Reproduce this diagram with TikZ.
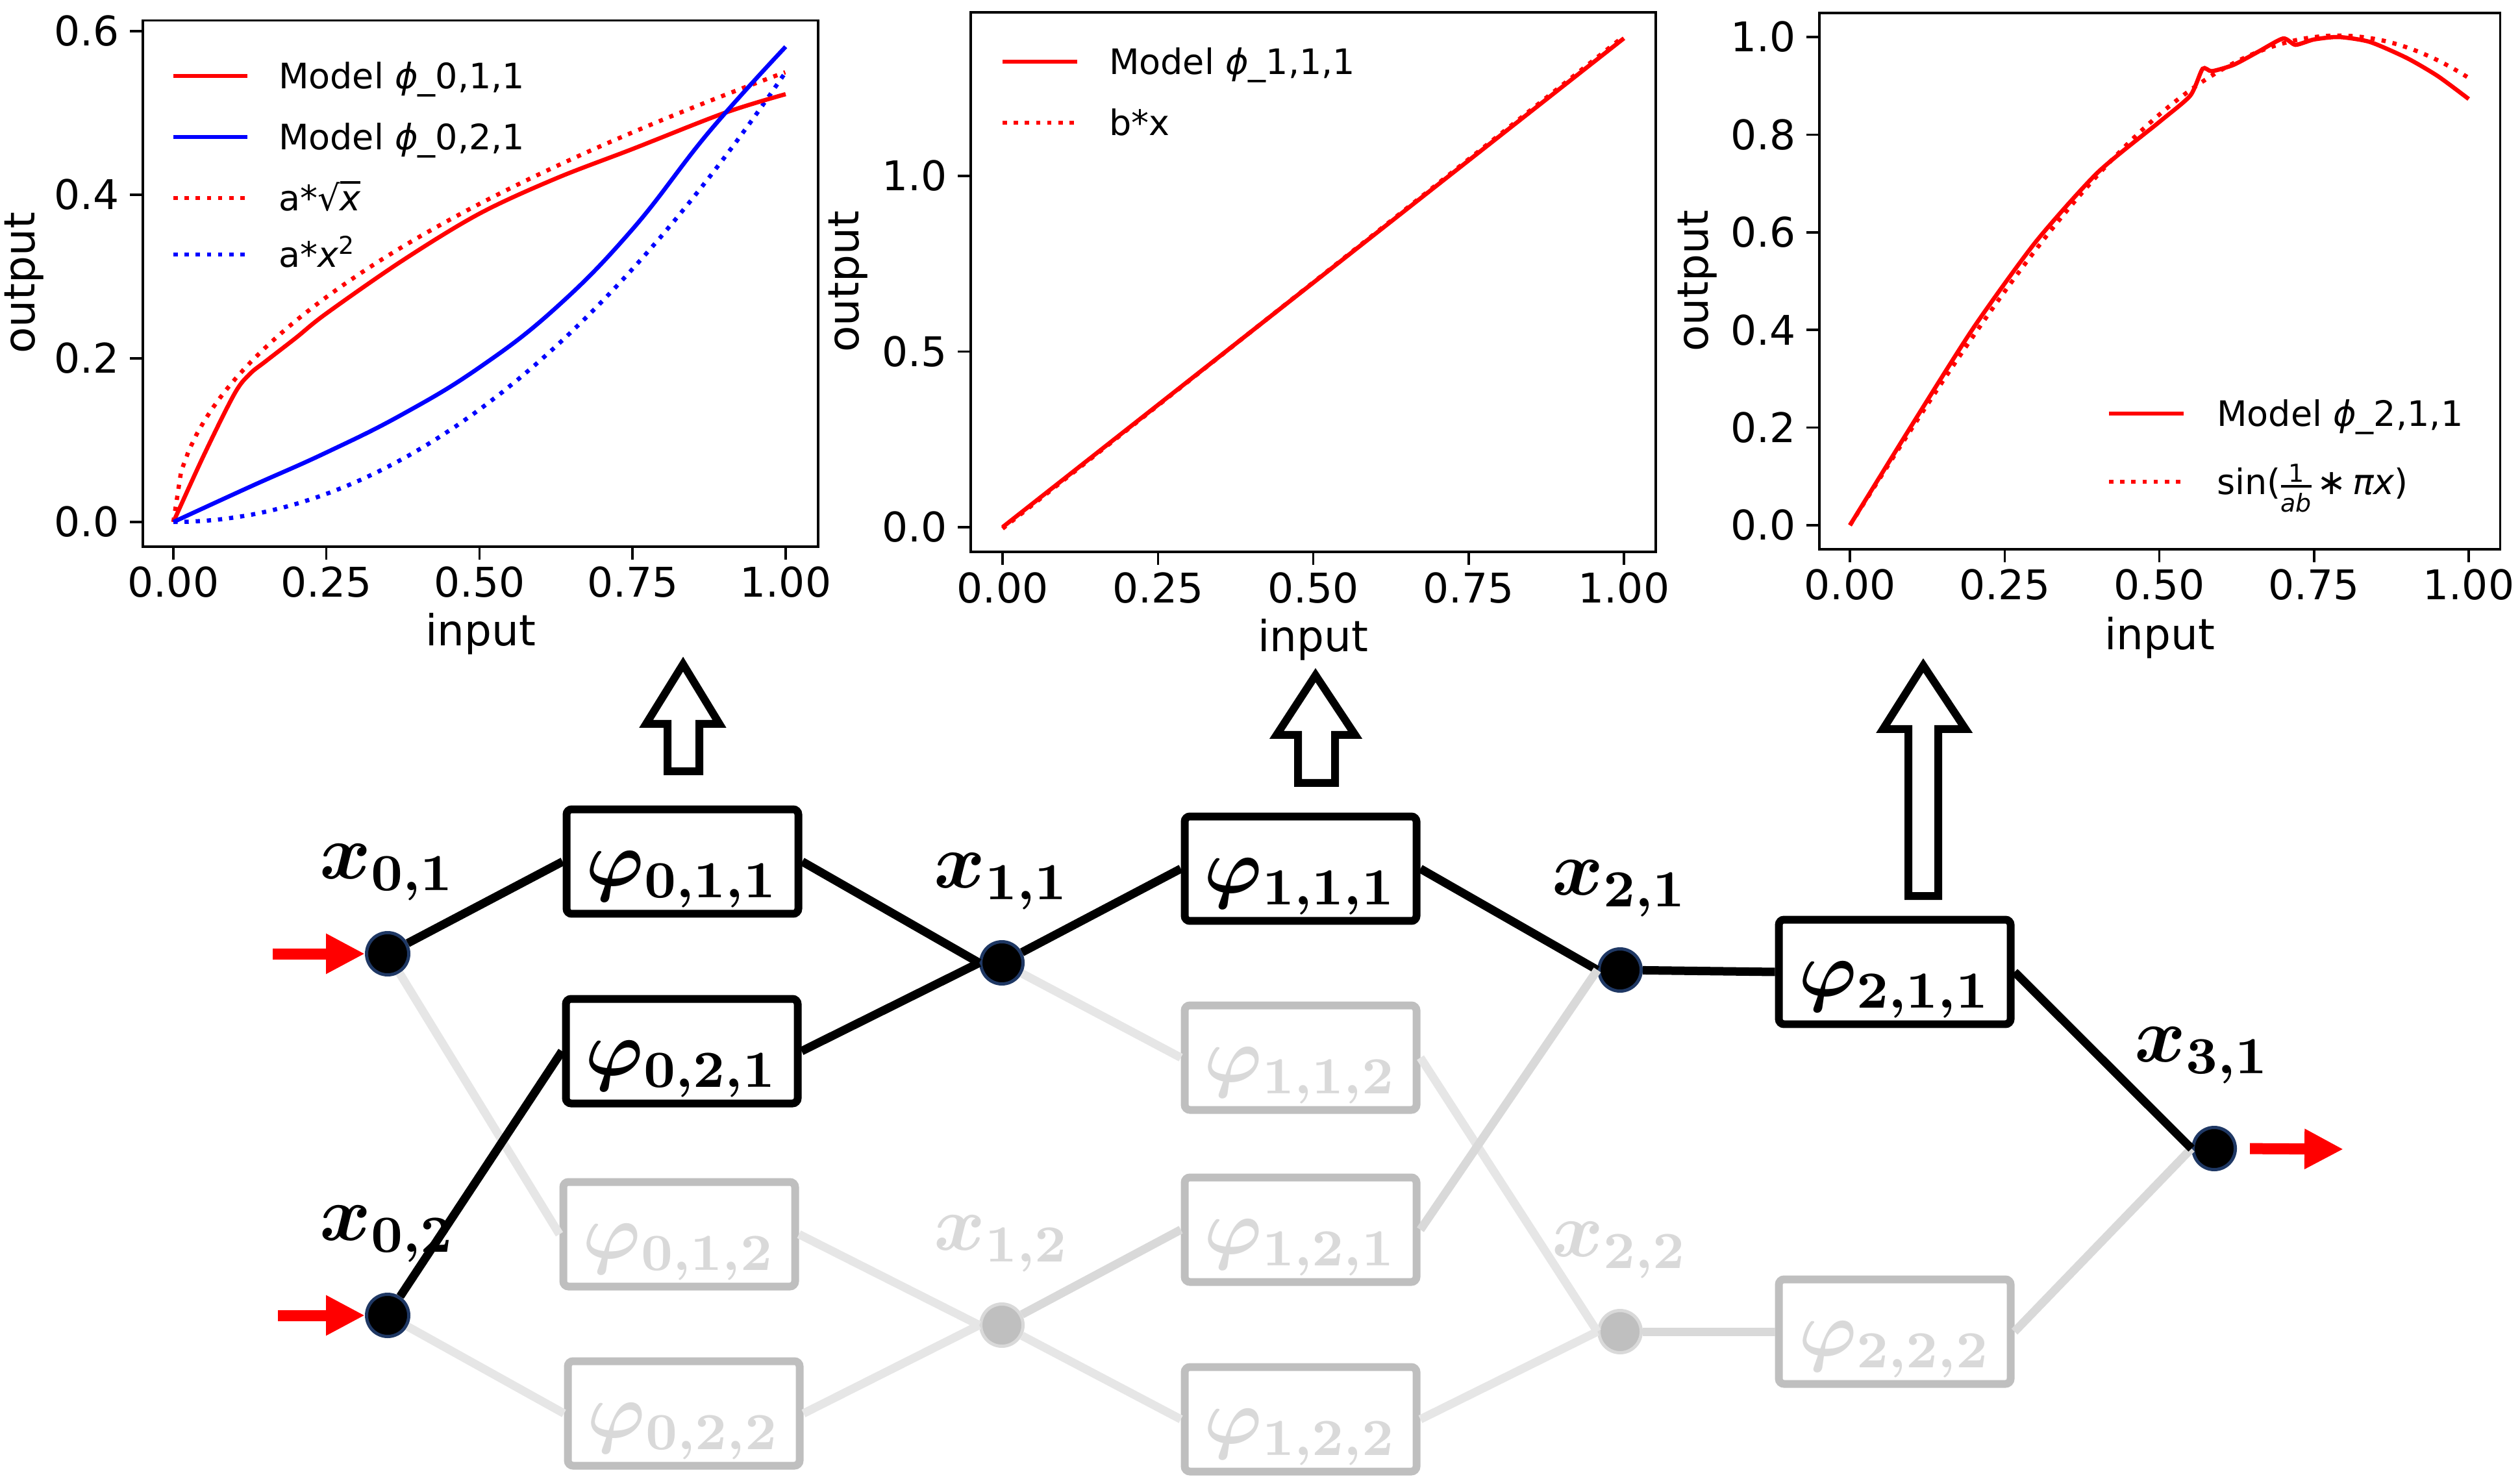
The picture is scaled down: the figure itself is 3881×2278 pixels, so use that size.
\documentclass[tikz,border=0pt]{standalone}
\usepackage{fontspec}
\usepackage{bm}
\usepackage[svgnames]{xcolor}
\usepackage{tikz}
\usetikzlibrary{calc}
\usetikzlibrary{positioning}
\usetikzlibrary{arrows.meta}
\newfontfamily\plotfont{DejaVu Sans}
\definecolor{rimblue}{HTML}{1F3864}
\definecolor{offfill}{HTML}{BFBFBF}
\definecolor{offtext}{HTML}{D9D9D9}
\definecolor{offedge}{HTML}{E6E6E6}
\definecolor{offedgeb}{HTML}{D9D9D9}

\begin{document}
\begin{tikzpicture}[x=0.1pt, y=-0.1pt,
  neuronn/.style={circle, fill=black, draw=rimblue, line width=0.5pt,
    minimum size=6.5pt, inner sep=0pt},
  offneuronn/.style={neuronn, fill=offfill, draw=offtext},
  phin/.style={draw=black, line width=1.2pt, rounded corners=0.8pt,
    minimum width=35.7pt, minimum height=16.1pt, inner sep=0pt,
    text height=9.5pt, text depth=2pt, font=\fontsize{11.5}{13}\selectfont},
  offphin/.style={phin, draw=offfill, text=offtext},
  labeln/.style={inner sep=0pt, font=\fontsize{11.5}{13}\selectfont},
  offlabeln/.style={labeln, text=offtext},
  wire/.style={line width=1.3pt, draw=black},
  offwire/.style={line width=1.3pt, draw=offedge},
  offwireb/.style={line width=1.3pt, draw=offedgeb},
  feed/.style={draw=red, line width=1.7pt, -{Triangle[length=6pt,width=5.8pt]}},
  hollow/.style={draw=black, fill=white, line width=1.2pt},
  axisn/.style={line width=0.35pt},
  fitn/.style={line width=0.65pt},
  dotn/.style={line width=0.65pt, dash pattern=on 0.65pt off 1.07pt},
  tickn/.style={inner sep=0pt, font=\plotfont\fontsize{6.3}{7}\selectfont},
  namen/.style={inner sep=0pt, font=\plotfont\fontsize{6.6}{7}\selectfont},
  legn/.style={inner sep=0pt, anchor=base west, yshift=-2pt,
    font=\plotfont\fontsize{5.4}{6}\selectfont}]
  \useasboundingbox (0,0) rectangle (3881,2278);

  % fitted curves of the first layer
  \begin{scope}[shift={(267,804)}, x=94.3pt, y=126pt]
    \draw[axisn] (-0.05,-0.03) rectangle (1.053,0.613);
    \foreach \t in {0.00,0.25,0.50,0.75,1.00}{
      \draw[axisn] (\t,-0.03) -- ++(0pt,-2pt);
      \node[tickn, anchor=base, yshift=-7.8pt] at (\t,-0.03) {\t};}
    \foreach \v in {0.0,0.2,0.4,0.6}{
      \draw[axisn] (-0.05,\v) -- ++(-2pt,0pt);
      \node[tickn, anchor=east, xshift=-3.4pt] at (-0.05,\v) {\v};}
    \draw[dotn, red] plot[domain=0:1, samples=80] (\x,{0.55*sqrt(\x)});
    \draw[dotn, blue] plot[domain=0:1, samples=40] (\x,{0.55*\x*\x});
    \draw[fitn, red] plot[smooth, tension=0.55] coordinates {(0,0) (0.05,0.082)
      (0.1,0.157) (0.125,0.181) (0.15,0.196) (0.2,0.225) (0.25,0.255)
      (0.375,0.32) (0.5,0.377) (0.625,0.42) (0.75,0.456) (0.9,0.50) (1,0.523)};
    \draw[fitn, blue] plot[smooth, tension=0.7] coordinates {(0,0) (0.125,0.043)
      (0.25,0.085) (0.375,0.132) (0.5,0.189) (0.625,0.262) (0.75,0.358)
      (0.875,0.477) (1,0.581)};
  \end{scope}
  \node[namen, rotate=90] (out1) at (37,436) {output};
  \node[namen] (in1) at (740,976) {input};
  \draw[fitn, red] (267,117) -- (381,117);
  \node[legn] (leg1a) at (427,117) {Model {\itshape ϕ}\_0,1,1};
  \draw[fitn, blue] (267,211) -- (381,211);
  \node[legn] (leg1b) at (427,211) {Model {\itshape ϕ}\_0,2,1};
  \draw[dotn, red] (267,305) -- (381,305);
  \node[legn] (leg1c) at (427,305) {a*√$\overline{\hbox{\itshape x}}$};
  \draw[dotn, blue] (267,392) -- (381,392);
  \node[legn] (leg1d) at (427,392) {a*{\itshape x}\textsuperscript{2}};

  % fitted curve of the second layer
  \begin{scope}[shift={(1544,812)}, x=95.7pt, y=54.1pt]
    \draw[axisn] (-0.0512,-0.0706) rectangle (1.051,1.466);
    \foreach \t in {0.00,0.25,0.50,0.75,1.00}{
      \draw[axisn] (\t,-0.0706) -- ++(0pt,-2pt);
      \node[tickn, anchor=base, yshift=-7.8pt] at (\t,-0.0706) {\t};}
    \foreach \v in {0.0,0.5,1.0}{
      \draw[axisn] (-0.0512,\v) -- ++(-2pt,0pt);
      \node[tickn, anchor=east, xshift=-3.4pt] at (-0.0512,\v) {\v};}
    \draw[dotn, red] (0,-0.004) -- (1,1.398);
    \draw[fitn, red] (0,0) -- (1,1.392);
  \end{scope}
  \node[namen, rotate=90] (out2) at (1306,434) {output};
  \node[namen] (in2) at (2022,985) {input};
  \draw[fitn, red] (1544,95) -- (1659,95);
  \node[legn] (leg2a) at (1706,95) {Model {\itshape ϕ}\_1,1,1};
  \draw[dotn, red] (1544,189) -- (1659,189);
  \node[legn] (leg2b) at (1706,189) {b*x};

  % fitted curve of the third layer
  \begin{scope}[shift={(2849,809)}, x=95.3pt, y=75.2pt]
    \draw[axisn] (-0.0493,-0.049) rectangle (1.051,1.049);
    \foreach \t in {0.00,0.25,0.50,0.75,1.00}{
      \draw[axisn] (\t,-0.049) -- ++(0pt,-2pt);
      \node[tickn, anchor=base, yshift=-7.8pt] at (\t,-0.049) {\t};}
    \foreach \v in {0.0,0.2,0.4,0.6,0.8,1.0}{
      \draw[axisn] (-0.0493,\v) -- ++(-2pt,0pt);
      \node[tickn, anchor=east, xshift=-3.4pt] at (-0.0493,\v) {\v};}
    \draw[dotn, red] plot[domain=0:1, samples=80] (\x,{1.003*sin(114*\x)});
    \draw[fitn, red] plot[smooth, tension=0.4] coordinates {(0,0) (0.1,0.205)
      (0.2,0.405) (0.3,0.58) (0.4,0.722) (0.5,0.826) (0.55,0.88) (0.57,0.935)
      (0.585,0.93) (0.62,0.943) (0.66,0.97) (0.7,0.997) (0.72,0.984)
      (0.75,0.995) (0.79,1.0) (0.84,0.99) (0.9,0.957) (0.95,0.92) (1,0.873)};
  \end{scope}
  \node[namen, rotate=90] (out3) at (2614,433) {output};
  \node[namen] (in3) at (3326,982) {input};
  \draw[fitn, red] (3248,637) -- (3363,637);
  \node[legn] (leg3a) at (3412,637) {Model {\itshape ϕ}\_2,1,1};
  \draw[dotn, red] (3248,742) -- (3363,742);
  \node[legn] (leg3b) at (3412,742) {\nulldelimiterspace=0pt sin($\frac{\hbox{\fontsize{3.8}{4}\selectfont 1}}{\hbox{\fontsize{3.8}{4}\selectfont\itshape ab}}$\,∗\,{\itshape πx})};

  % network
  \node[neuronn] (x01) at (597,1469) {};
  \node[neuronn] (x02) at (597,2026) {};
  \node[phin] (p011) at (1051,1327) {$\bm{\varphi_{0,1,1}}$};
  \node[phin] (p021) at (1050,1619) {$\bm{\varphi_{0,2,1}}$};
  \node[offphin] (p012) at (1046,1901) {$\bm{\varphi_{0,1,2}}$};
  \node[offphin] (p022) at (1053,2177) {$\bm{\varphi_{0,2,2}}$};
  \node[neuronn] (x11) at (1543,1483) {};
  \node[offneuronn] (x12) at (1543,2041) {};
  \node[phin] (p111) at (2003,1338) {$\bm{\varphi_{1,1,1}}$};
  \node[offphin] (p112) at (2003,1629) {$\bm{\varphi_{1,1,2}}$};
  \node[offphin] (p121) at (2003,1894) {$\bm{\varphi_{1,2,1}}$};
  \node[offphin] (p122) at (2003,2186) {$\bm{\varphi_{1,2,2}}$};
  \node[neuronn] (x21) at (2495,1494) {};
  \node[offneuronn] (x22) at (2495,2051) {};
  \node[phin] (p211) at (2918,1497) {$\bm{\varphi_{2,1,1}}$};
  \node[offphin] (p222) at (2918,2051) {$\bm{\varphi_{2,2,2}}$};
  \node[neuronn] (x31) at (3410,1769) {};

  \node[labeln, above=4.5pt of x01] (lx01) {$\bm{x_{0,1}}$};
  \node[labeln, above=4.5pt of x02] (lx02) {$\bm{x_{0,2}}$};
  \node[labeln, above=4.5pt of x11] (lx11) {$\bm{x_{1,1}}$};
  \node[offlabeln, above=4.5pt of x12] (lx12) {$\bm{x_{1,2}}$};
  \node[labeln, above=4.5pt of x21] (lx21) {$\bm{x_{2,1}}$};
  \node[offlabeln, above=4.5pt of x22] (lx22) {$\bm{x_{2,2}}$};
  \node[labeln, above=6.3pt of x31, xshift=-1.8pt] (lx31) {$\bm{x_{3,1}}$};

  \draw[offwire] (x01) -- (p012.west);
  \draw[offwire] (x02) -- (p022.west);
  \draw[offwire] (p012.east) -- (x12.west);
  \draw[offwire] (p022.east) -- (x12.west);
  \draw[offwire] (x11) -- (p112.west);
  \draw[offwireb] (x12) -- (p121.west);
  \draw[offwire] (x12) -- (p122.west);
  \draw[offwire] (p112.east) -- (x22.west);
  \draw[offwire] (p122.east) -- (x22.west);
  \draw[offwireb] (x22) -- (p222.west);
  \draw[offwireb] (p222.east) -- (x31.west);
  \draw[wire] (x01) -- (p011.west);
  \draw[wire] (x02) -- (p021.west);
  \draw[wire] (p011.east) -- (x11.west);
  \draw[wire] (p021.east) -- (x11.west);
  \draw[wire] (x11) -- (p111.west);
  \draw[wire] (p111.east) -- (x21.west);
  \draw[offwireb] (p121.east) -- (x21.west);
  \draw[wire] (x21) -- (p211.west);
  \draw[wire] (p211.east) -- (x31.west);

  \coordinate (src1) at (420,1469);
  \coordinate (src2) at (428,2026);
  \coordinate (sink) at (3609,1770);
  \draw[feed] (src1) -- (x01.west);
  \draw[feed] (src2) -- (x02.west);
  \draw[feed, shorten <=2pt] (x31.east) -- (sink);

  % block arrows up to the plots
  \draw[hollow] (1052,1023) -- (1108,1115) -- (1077,1115) -- (1077,1188)
    -- (1028,1188) -- (1028,1115) -- (995,1115) -- cycle;
  \draw[hollow] (2026,1040) -- (2087,1132) -- (2056,1132) -- (2056,1206)
    -- (1999,1206) -- (1999,1132) -- (1966,1132) -- cycle;
  \draw[hollow] (2962,1025) -- (3027,1123) -- (2985,1123) -- (2985,1380)
    -- (2939,1380) -- (2939,1123) -- (2900,1123) -- cycle;
\end{tikzpicture}
\end{document}
